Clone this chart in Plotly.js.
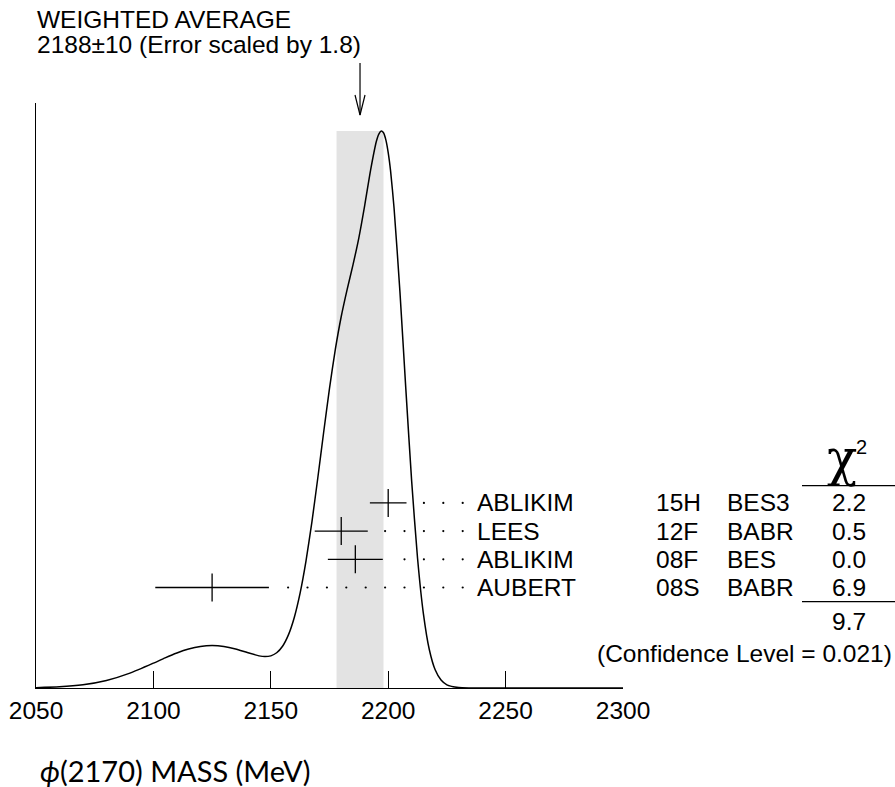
<!DOCTYPE html>
<html><head><meta charset="utf-8">
<script src="https://cdn.plot.ly/plotly-3.0.1.min.js"></script>
<style>html,body{margin:0;padding:0;background:#fff}</style>
</head><body>
<div id="chart" style="width:895px;height:787px"></div>
<script>
// ---- data ----
const authors = ['ABLIKIM', 'LEES', 'ABLIKIM', 'AUBERT'];
const docIds = ['15H', '12F', '08F', '08S'];
const experiments = ['BES3', 'BABR', 'BES', 'BABR'];
const masses = [2200, 2180, 2186, 2125];
const errors = [7.8, 11.3, 11.7, 24.2];
const chi2 = [2.2, 0.5, 0.0, 6.9];
const chi2Total = 9.7;
const confidenceLevel = '0.021';
const weightedAvg = 2188;
const weightedErr = 10;
const errorScale = 1.8;
const tickValues = [2050, 2100, 2150, 2200, 2250, 2300];
const curveMass = [2050, 2060, 2070, 2080, 2090, 2100, 2105, 2110, 2115, 2120, 2125, 2130, 2135, 2140, 2145, 2147.5, 2150, 2152.5, 2155, 2157.5, 2160, 2162.5, 2165, 2167.5, 2170, 2172.5, 2175, 2177.5, 2180, 2182.5, 2185, 2187.5, 2190, 2192.5, 2195, 2196, 2197, 2198, 2199, 2200, 2201, 2202.5, 2205, 2207.5, 2210, 2212.5, 2215, 2217.5, 2220, 2222.5, 2225, 2230, 2235, 2240, 2250, 2275, 2300];
const curveDensity = [0.139, 0.46, 1.284, 3.024, 5.998, 10.03, 12.16, 14.12, 15.72, 16.76, 17.12, 16.77, 15.75, 14.30, 12.97, 12.68, 12.98, 14.22, 16.87, 21.45, 28.49, 38.41, 51.34, 67.01, 84.69, 103.16, 120.97, 136.81, 149.99, 160.86, 170.84, 181.78, 194.89, 209.11, 220.85, 223.67, 224.89, 224.17, 221.33, 216.21, 208.9, 193.69, 159.92, 120.88, 83.43, 52.39, 29.94, 15.56, 7.37, 3.20, 1.28, 0.166, 0.018, 0.001, 0, 0, 0];

// ---- layout geometry (pixels) ----
const W = 895, H = 787;
const L = 36, R = 272, T = 103, B = 99;
const plotW = W - L - R, plotH = H - T - B;
const yMax = 236.2;
const px2x = p => (p - L) / plotW;          // paper x
const py2y = p => (H - B - p) / plotH;      // paper y
const xMin = 2050, xMax = 2300;
const mevPerPx = (xMax - xMin) / plotW;
const dataPerPy = yMax / plotH;

const rowTopPx = 502.9, rowStepPx = 28.2;
const rowY = authors.map((_, i) => (H - B - (rowTopPx + i * rowStepPx)) * dataPerPy);

const FONT = 'Liberation Sans, Arial, Helvetica, sans-serif';
const fs = 24.5;

const traces = [];
// ideogram curve
traces.push({
  x: curveMass, y: curveDensity, type: 'scatter', mode: 'lines',
  line: {color: '#000', width: 1.5, shape: 'spline', smoothing: 0.6},
  hoverinfo: 'skip', showlegend: false
});
// leader dots
const dotEndX = xMin + (462.7 - L) * mevPerPx;
const dotStep = 19.4 * mevPerPx;
const dotX = [], dotY = [];
masses.forEach((m, i) => {
  const end = m + errors[i];
  for (let k = 0; ; k++) {
    const x = dotEndX - k * dotStep;
    if (x <= end + 12 * mevPerPx) break;
    dotX.push(x); dotY.push(rowY[i]);
  }
});
traces.push({
  x: dotX, y: dotY, type: 'scatter', mode: 'markers',
  marker: {color: '#000', size: 2.2, symbol: 'circle'},
  hoverinfo: 'skip', showlegend: false
});
// measurements with error bars
traces.push({
  x: masses, y: rowY, type: 'scatter', mode: 'markers',
  error_x: {type: 'data', array: errors, visible: true, color: '#000', thickness: 1.3, width: 0},
  marker: {symbol: 'line-ns-open', size: 20, color: '#000', line: {color: '#000', width: 1.3}},
  hoverinfo: 'skip', showlegend: false
});

const peak = Math.max(...curveDensity);
const shapes = [
  {type: 'rect', xref: 'x', yref: 'y', x0: weightedAvg - weightedErr, x1: weightedAvg + weightedErr,
   y0: 0, y1: peak, fillcolor: '#e3e3e3', line: {width: 0}, layer: 'below'},
  // arrow
  {type: 'line', xref: 'x', yref: 'paper', x0: weightedAvg, x1: weightedAvg, y0: py2y(63), y1: py2y(115),
   line: {color: '#000', width: 1.2}},
  {type: 'path', xref: 'x', yref: 'paper',
   path: `M ${weightedAvg - 5 * mevPerPx},${py2y(95)} L ${weightedAvg},${py2y(115)} L ${weightedAvg + 5 * mevPerPx},${py2y(95)}`,
   line: {color: '#000', width: 1.2}},
  // chi2 underlines
  {type: 'line', xref: 'paper', yref: 'paper', x0: px2x(802), x1: px2x(895), y0: py2y(485.7), y1: py2y(485.7),
   line: {color: '#000', width: 1.3}},
  {type: 'line', xref: 'paper', yref: 'paper', x0: px2x(802), x1: px2x(895), y0: py2y(601.7), y1: py2y(601.7),
   line: {color: '#000', width: 1.3}}
];

const ann = [];
const txt = (text, xp, yp, anchor, size, extra) => Object.assign({
  text: text, xref: 'paper', yref: 'paper', x: px2x(xp), y: py2y(yp),
  xanchor: anchor, yanchor: 'middle', showarrow: false,
  font: {family: FONT, size: size || fs, color: '#000'}
}, extra || {});
ann.push(txt('WEIGHTED AVERAGE', 35, 19, 'left'));
ann.push(txt(`${weightedAvg}±${weightedErr} (Error scaled by ${errorScale})`, 35, 45, 'left'));
authors.forEach((a, i) => {
  const yv = rowY[i];
  const base = {yref: 'y', y: yv};
  ann.push(txt(a, 475, 0, 'left', fs, base));
  ann.push(txt(docIds[i], 653.5, 0, 'left', fs, base));
  ann.push(txt(experiments[i], 725, 0, 'left', fs, base));
  ann.push(txt(chi2[i].toFixed(1), 868, 0, 'right', fs, base));
});
ann.push(txt(chi2Total.toFixed(1), 868, 621, 'right'));
ann.push(txt(`(Confidence Level = ${confidenceLevel})`, 894, 653, 'right'));
ann.push(txt('χ', 842, 458, 'center', 50, {font: {family: 'DejaVu Serif, serif', size: 50, color: '#000'}}));
ann.push(txt('2', 861, 447, 'center', 20));
ann.push(txt('<i>ϕ</i>(2170) MASS (MeV)', 38, 770, 'left', 29, {font: {family: 'Lato, sans-serif', size: 29, color: '#000'}}));

const layout = {
  width: W, height: H,
  margin: {l: L, r: R, t: T, b: B, pad: 0},
  paper_bgcolor: '#fff', plot_bgcolor: '#fff',
  showlegend: false,
  xaxis: {
    range: [xMin, xMax], tickvals: tickValues, ticktext: tickValues.map(String),
    ticks: 'inside', ticklen: 17, tickwidth: 1.3, tickcolor: '#000',
    showline: true, linewidth: 1.3, linecolor: '#000',
    showgrid: false, zeroline: false,
    tickfont: {family: FONT, size: fs, color: '#000'}
  },
  yaxis: {
    range: [0, yMax], showline: true, linewidth: 1.3, linecolor: '#000',
    ticks: '', showticklabels: false, showgrid: false, zeroline: false
  },
  shapes: shapes,
  annotations: ann
};
Plotly.newPlot('chart', traces, layout, {staticPlot: true, displayModeBar: false});
</script>
</body></html>
